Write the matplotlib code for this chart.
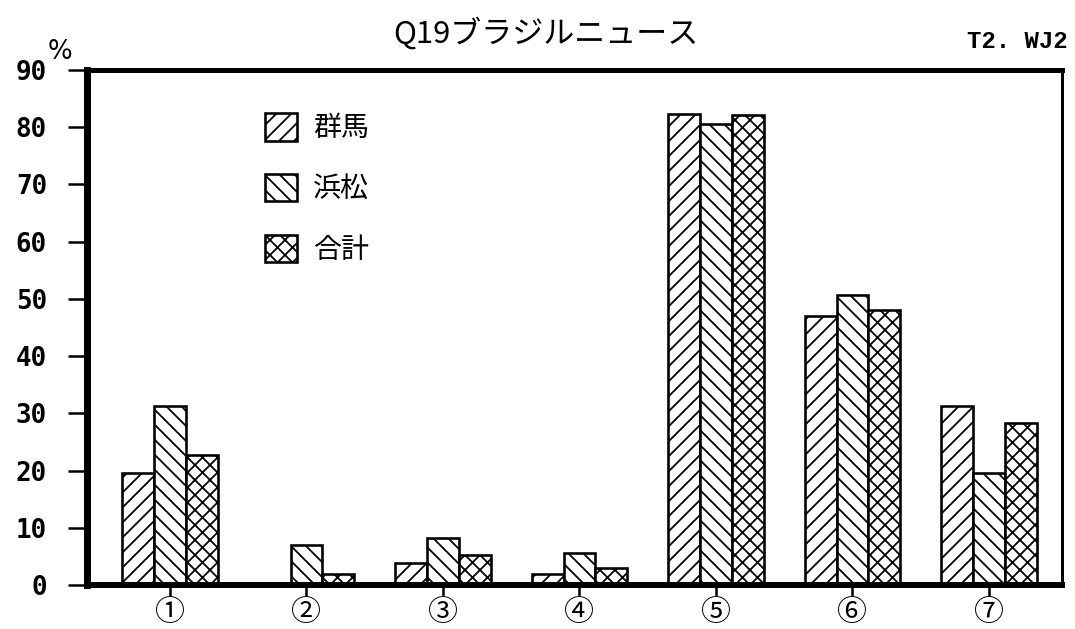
import numpy as np
import matplotlib.pyplot as plt

# データ
categories = ['①', '②', '③', '④', '⑤', '⑥', '⑦']
series_names = ['群馬', '浜松', '合計']
gunma = [19.6, 0.0, 3.8, 2.0, 82.3, 47.0, 31.3]
hamamatsu = [31.2, 7.0, 8.3, 5.6, 80.5, 50.7, 19.5]
total = [22.7, 2.0, 5.2, 3.0, 82.2, 48.1, 28.3]
yticks = [0, 10, 20, 30, 40, 50, 60, 70, 80, 90]

cjk = ['Noto Sans CJK JP', 'DejaVu Sans']
plt.rcParams['font.family'] = cjk

DPI = 90
def pt(px):
    # ピクセル -> ポイント
    return px * 72 / DPI

plt.rcParams['hatch.linewidth'] = pt(1.8)

W, H = 1075, 629
fig = plt.figure(figsize=(W / DPI, H / DPI), dpi=DPI)
ax = fig.add_axes([87 / W, (H - 585) / H, 975 / W, 515 / H])

x = np.arange(len(categories))
w = 0.234
hatches = ['//', '\\\\', 'xx']
bars = []
for k, (vals, h) in enumerate(zip([gunma, hamamatsu, total], hatches)):
    b = ax.bar(x + (k - 1) * w, vals, width=w, facecolor='white',
               edgecolor='black', linewidth=pt(2.6), hatch=h, zorder=2)
    bars.append(b)

ax.set_xlim(-0.608, 6.535)
ax.set_ylim(0, 90)
ax.set_yticks(yticks)
ax.set_yticklabels([str(v) for v in yticks], family='DejaVu Sans Mono',
                   fontsize=pt(26), fontweight='bold')
ax.set_xticks(x)
ax.set_xticklabels(categories, fontsize=pt(30))
ax.tick_params(axis='y', direction='out', length=pt(19), width=pt(2.5), pad=pt(21))
ax.tick_params(axis='x', direction='out', length=pt(11), width=pt(2.5), pad=pt(1))

ax.spines['left'].set_linewidth(pt(7))
ax.spines['bottom'].set_linewidth(pt(6))
ax.spines['top'].set_linewidth(pt(5))
ax.spines['right'].set_linewidth(pt(3))
for s in ax.spines.values():
    s.set_zorder(3)

ax.legend(bars, series_names, loc='upper left', bbox_to_anchor=(0.1826, 0.9165),
          frameon=False, fontsize=pt(28), handlelength=1.14, handleheight=1.14,
          handletextpad=0.57, labelspacing=1.09, borderpad=0, borderaxespad=0)

fig.text(0.508, 1 - 33 / H, 'Q19ブラジルニュース', fontsize=pt(31),
         ha='center', va='center')
fig.text(1068 / W, 1 - 42 / H, 'T2. WJ2', family='Liberation Mono',
         fontweight='bold', fontsize=pt(24), ha='right', va='center')
fig.text(60 / W, 1 - 52 / H, '%', family='DejaVu Sans', fontsize=pt(26),
         ha='center', va='center')

fig.savefig('out.png', dpi=DPI)
